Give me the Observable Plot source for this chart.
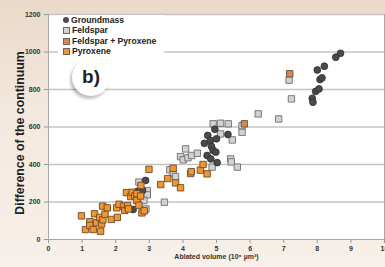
<!DOCTYPE html>
<html>
<head>
<meta charset="utf-8">
<script src="https://cdn.jsdelivr.net/npm/d3@7"></script>
<script src="https://cdn.jsdelivr.net/npm/@observablehq/plot@0.6"></script>
<style>
  html, body { margin: 0; padding: 0; }
  body {
    width: 385px; height: 267px; overflow: hidden;
    background: linear-gradient(180deg, #ead9c8 0%, #f3e8dd 40%, #f7f0ea 100%);
    font-family: "Liberation Sans", Arial, sans-serif;
  }
  #wrap { position: relative; width: 385px; height: 267px; }
  #legend {
    position: absolute; left: 58px; top: 15px; width: 106px; height: 40px;
    background: #fff; font-weight: bold; font-size: 8.6px; color: #222; line-height: 10.4px;
    padding-left: 5px; box-sizing: border-box;
  }
  .row { display: flex; align-items: center; white-space: nowrap; }
  .sw { display: inline-block; width: 5px; height: 5px; margin-right: 2px; border: 1px solid #666; }
  .dot { display: inline-block; width: 6px; height: 6px; margin-right: 2px; border-radius: 50%; background: #4a4a4a; }
  #badge {
    position: absolute; left: 72px; top: 58px; width: 38px; height: 38px; border-radius: 50%;
    background: #fff; box-shadow: -2px 3px 3px rgba(0,0,0,0.25);
    font-weight: bold; font-size: 19px; color: #222; display: flex; align-items: center; justify-content: center;
    font-family: "Liberation Sans", Arial, sans-serif;
  }
</style>
</head>
<body>
<div id="wrap"></div>
<script>
// Series values: [ablated volume (10^6 µm^3), difference of the continuum]
const groundmass = [
  [2.52,160],[2.66,258],[2.80,262],[2.89,315],
  [4.64,513],[4.74,555],[4.82,528],[4.85,496],[4.90,475],[4.95,588],[5.00,537],
  [4.98,466],[4.72,448],[4.83,430],[5.02,410],[5.34,560],
  [7.85,753],[7.87,732],[7.95,790],[8.05,803],[8.08,853],[8.14,862],[8.00,904],
  [8.21,924],[8.55,972],[8.69,993]
];
const feldspar = [
  [2.69,306],[2.94,261],[2.94,238],[2.84,208],[2.90,163],[3.45,199],[3.61,372],
  [3.71,350],[3.78,336],[3.93,442],[4.01,425],[4.08,483],[4.15,436],[4.26,448],
  [4.43,460],[4.87,386],[4.90,617],[5.12,620],[5.35,617],[5.12,563],[5.47,531],
  [5.42,430],[5.44,414],[5.62,386],[5.76,572],[5.76,607],[6.24,670],[6.85,643],
  [7.16,850],[7.23,750]
];
const feldsparPyroxene = [
  [7.18,884],[5.83,617]
];
const pyroxene = [
  [0.98,126],[1.10,53],[1.23,95],[1.23,75],[1.33,53],[1.37,137],[1.43,90],[1.52,118],
  [1.55,44],[1.58,83],[1.61,178],[1.62,105],[1.68,135],[1.75,169],[1.87,107],[2.05,118],
  [2.03,169],[2.10,188],[2.23,178],[2.27,155],[2.32,250],[2.35,181],[2.38,163],[2.45,229],
  [2.49,252],[2.57,232],[2.63,244],[2.63,208],[2.69,183],[2.74,232],[2.75,288],[2.78,142],
  [2.85,153],[2.99,374],[3.34,293],[3.55,325],[3.71,380],[3.78,302],[3.93,276],[4.23,352],
  [4.25,362],[4.52,370],[4.60,400],[4.72,350]
];
const xTicks = [0,1,2,3,4,5,6,7,8,9,10];
const yTicks = [0,200,400,600,800,1000,1200];
const yGrid = [200,400,600,800,1000,1200];
const seriesNames = ["Groundmass","Feldspar","Feldspar + Pyroxene","Pyroxene"];
const seriesFill = ["#4a4a4a","#d2d2d2","#cf8a58","#f2962f"];
const yLabel = "Difference of the continuum";
const xLabel = "Ablated volume (10\u2076 \u00b5m\u00b3)";

const chart = Plot.plot({
  width: 385, height: 267,
  marginLeft: 48, marginRight: 1, marginTop: 14, marginBottom: 28,
  style: { background: "transparent", fontFamily: "Liberation Sans, Arial, sans-serif", fontWeight: "bold", fontSize: "7px", color: "#333" },
  x: { domain: [0, 10], ticks: xTicks, label: null },
  y: { domain: [0, 1200], ticks: yTicks, label: null },
  marks: [
    Plot.frame({ fill: "#fff", stroke: "#a8a8a8", strokeWidth: 1 }),
    Plot.ruleY(yGrid, { stroke: "#c4c4c4", strokeWidth: 1.5 }),
    Plot.axisX({ ticks: xTicks, tickFormat: d3.format("d"), tickSize: 4, tickPadding: 3, stroke: "#999", fill: "#333", label: null, fontSize: 7 }),
    Plot.axisY({ ticks: yTicks, tickFormat: d3.format("d"), tickSize: 4, tickPadding: 4, stroke: "#999", fill: "#333", label: null, fontSize: 7 }),
    Plot.ruleX([0], { stroke: "#a8a8a8" }),
    Plot.ruleY([0], { stroke: "#a8a8a8" }),
    Plot.dot(feldspar, { x: d => d[0], y: d => d[1], symbol: "square", r: 3.6, fill: seriesFill[1], stroke: "#6e6e6e", strokeWidth: 0.9 }),
    Plot.dot(groundmass, { x: d => d[0], y: d => d[1], r: 3.4, fill: seriesFill[0], stroke: "#2e2e2e", strokeWidth: 0.8 }),
    Plot.dot(pyroxene, { x: d => d[0], y: d => d[1], symbol: "square", r: 3.6, fill: seriesFill[3], stroke: "#6b4a30", strokeWidth: 0.9 }),
    Plot.dot(feldsparPyroxene, { x: d => d[0], y: d => d[1], symbol: "square", r: 3.6, fill: seriesFill[2], stroke: "#6b4a30", strokeWidth: 0.9 }),
    Plot.text([yLabel], { frameAnchor: "left", textAnchor: "middle", dx: -28, dy: 6, rotate: -90, fontSize: 12.3, fontWeight: 600, fill: "#1e1e1e", fontFamily: "Liberation Sans, Arial, sans-serif" }),
    Plot.text([xLabel], { frameAnchor: "bottom", dy: 19, fontSize: 7, fontWeight: "bold", fill: "#333" })
  ]
});

const wrap = document.getElementById("wrap");
wrap.appendChild(chart);

const legend = document.createElement("div");
legend.id = "legend";
seriesNames.forEach((name, i) => {
  const row = document.createElement("div");
  row.className = "row";
  const s = document.createElement("span");
  s.className = i === 0 ? "dot" : "sw";
  s.style.background = seriesFill[i];
  row.appendChild(s);
  row.appendChild(document.createTextNode(name));
  legend.appendChild(row);
});
wrap.appendChild(legend);

const badge = document.createElement("div");
badge.id = "badge";
badge.textContent = "b)";
wrap.appendChild(badge);
</script>
</body>
</html>
